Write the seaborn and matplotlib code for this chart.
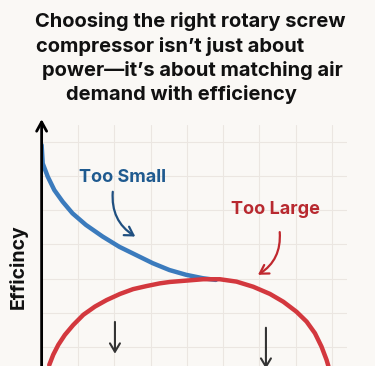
import matplotlib.pyplot as plt
import seaborn as sns
import pandas as pd

# 曲线数据 (从参考图读取, x = 空气需求, y = 效率)
small_demand = [0.0, 0.03, 0.17, 0.35, 0.58, 0.85, 1.22, 1.68, 2.14, 2.60,
                3.06, 3.52, 3.98, 4.44, 4.80]
small_eff = [6.91, 6.37, 5.98, 5.59, 5.25, 4.91, 4.57, 4.23, 3.93, 3.69,
             3.45, 3.25, 3.11, 3.01, 2.96]
large_demand = [0.21, 0.32, 0.46, 0.64, 0.87, 1.15, 1.47, 1.79, 2.16, 2.52, 2.89,
                3.26, 3.53, 3.99, 4.45, 4.91, 5.37, 5.83, 6.29, 6.66, 7.02, 7.30,
                7.53, 7.71, 7.85, 7.90]
large_eff = [0.47, 0.77, 1.06, 1.35, 1.64, 1.94, 2.18, 2.37, 2.55, 2.69, 2.78,
             2.86, 2.90, 2.94, 2.98, 2.98, 2.91, 2.76, 2.55, 2.32, 2.03, 1.74,
             1.40, 1.01, 0.62, 0.44]

title_lines = ["Choosing the right rotary screw",
               "compressor isn\u2019t just about",
               "power\u2014it\u2019s about matching air",
               "demand with efficiency"]
label_small = "Too Small"
label_large = "Too Large"
y_label = "Efficincy"

bg = '#faf8f5'
blue = '#3b7bbd'
red = '#d3383e'

sns.set_theme(style='whitegrid', rc={'axes.facecolor': bg, 'figure.facecolor': bg,
                                     'grid.color': '#ebe6e1', 'grid.linewidth': 0.8})
plt.rcParams['font.family'] = ['Inter', 'DejaVu Sans']

fig = plt.figure(figsize=(3.75, 3.66), dpi=100)
ax = fig.add_axes([0.111, 0.0, 0.814, 0.658])

df_small = pd.DataFrame({'demand': small_demand, 'eff': small_eff})
df_large = pd.DataFrame({'demand': large_demand, 'eff': large_eff})
sns.lineplot(data=df_small, x='demand', y='eff', color=blue, lw=3.2, sort=False,
             solid_joinstyle='round', solid_capstyle='round', ax=ax)
sns.lineplot(data=df_large, x='demand', y='eff', color=red, lw=3.2, sort=False,
             solid_joinstyle='round', ax=ax)

ax.set_xlim(0, 8.41)
ax.set_ylim(0.44, 7.49)
ax.set_xticks(range(1, 9))
ax.set_yticks(range(1, 8))
ax.set_xticklabels([])
ax.set_yticklabels([])
ax.tick_params(length=0)
ax.set_xlabel('')
ax.set_ylabel('')
for s in ax.spines.values():
    s.set_visible(False)

# 纵轴箭头
ax.annotate('', xy=(0, 1.025), xytext=(0, -0.01), xycoords='axes fraction',
            arrowprops=dict(arrowstyle='->,head_length=0.55,head_width=0.3', lw=2.0,
                            color='black', shrinkA=0, shrinkB=0),
            annotation_clip=False)

# 标注
ax.text(2.24, 5.82, label_small, color='#1f5a8f', fontsize=13, fontweight='bold',
        ha='center', va='baseline')
ax.annotate('', xy=(2.58, 4.23), xytext=(1.96, 5.54),
            arrowprops=dict(arrowstyle='->,head_length=0.5,head_width=0.3', lw=1.6,
                            color='#1f4f80', connectionstyle='arc3,rad=0.3',
                            shrinkA=0, shrinkB=0))
ax.text(6.43, 4.89, label_large, color='#b8292f', fontsize=13, fontweight='bold',
        ha='center', va='baseline')
ax.annotate('', xy=(5.96, 3.11), xytext=(6.56, 4.36),
            arrowprops=dict(arrowstyle='->,head_length=0.5,head_width=0.3', lw=1.6,
                            color='#c0282e', connectionstyle='arc3,rad=-0.3',
                            shrinkA=0, shrinkB=0))

# 向下箭头
ax.annotate('', xy=(2.02, 0.80), xytext=(2.02, 1.73),
            arrowprops=dict(arrowstyle='->,head_length=0.5,head_width=0.3', lw=1.5,
                            color='#333333', shrinkA=0, shrinkB=0),
            annotation_clip=False)
ax.annotate('', xy=(6.18, 0.36), xytext=(6.18, 1.56),
            arrowprops=dict(arrowstyle='->,head_length=0.5,head_width=0.3', lw=1.5,
                            color='#333333', shrinkA=0, shrinkB=0),
            annotation_clip=False)

fig.text(18 / 375, 1 - 267 / 366, y_label, rotation=90, ha='center', va='center',
         fontsize=14, fontweight='bold', color='#111111')

# 标题 (逐行放置)
centers = [190, 170, 192, 181]
baselines = [27, 52, 76, 100]
for line, cx, by in zip(title_lines, centers, baselines):
    fig.text(cx / 375, 1 - by / 366, line, ha='center', va='baseline',
             fontsize=14.5, fontweight='bold', color='#111111')

fig.savefig('out.png', dpi=100)
